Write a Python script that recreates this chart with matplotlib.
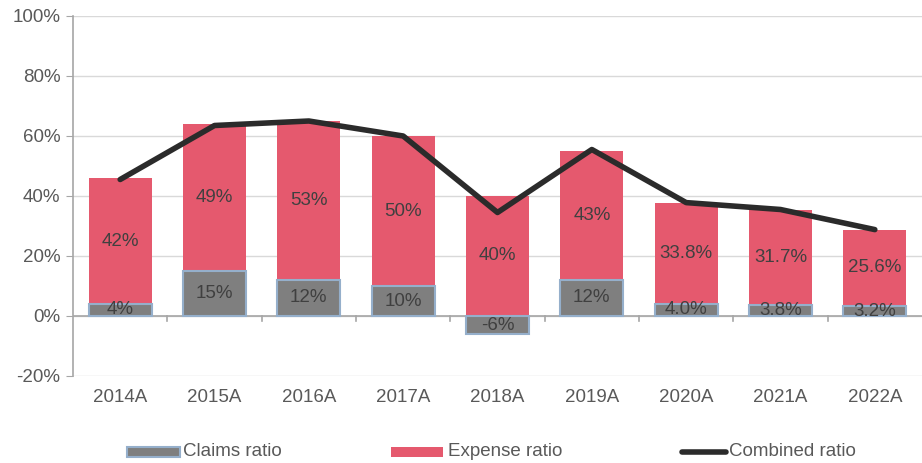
import matplotlib
matplotlib.use("Agg")
import matplotlib.pyplot as plt
from matplotlib.lines import Line2D
from matplotlib.patches import Rectangle

plt.rcParams["font.family"] = ["Liberation Sans", "DejaVu Sans"]

years = ["2014A", "2015A", "2016A", "2017A", "2018A", "2019A", "2020A", "2021A", "2022A"]
claims = [4, 15, 12, 10, -6, 12, 4.0, 3.8, 3.2]
expense = [42, 49, 53, 50, 40, 43, 33.8, 31.7, 25.6]
combined = [45.5, 63.5, 65, 60, 34.5, 55.5, 37.8, 35.5, 28.8]
claims_lbl = ["4%", "15%", "12%", "10%", "-6%", "12%", "4.0%", "3.8%", "3.2%"]
expense_lbl = ["42%", "49%", "53%", "50%", "40%", "43%", "33.8%", "31.7%", "25.6%"]

RED = "#E5596E"
GREY = "#7F7F7F"
EDGE = "#95AFCB"
LINE = "#2B2B2B"
TXT = "#404040"
AXT = "#595959"
FS = 13.5

W, H = 922, 463
fig = plt.figure(figsize=(W / 100, H / 100), dpi=100)
ax = fig.add_axes([73 / W, 1 - 376 / H, 849 / W, 360 / H])

x = range(len(years))
w = 0.67
bottoms = [max(c, 0) for c in claims]
ax.bar(x, expense, bottom=bottoms, width=w, color=RED, zorder=2)
ax.bar(x, claims, width=w, color=GREY, edgecolor=EDGE, linewidth=1.5, zorder=3)
ax.plot(x, combined, color=LINE, linewidth=4, solid_capstyle="round", zorder=4)

for i in x:
    ax.text(i, claims[i] / 2, claims_lbl[i], ha="center", va="center",
            fontsize=FS, color=TXT, zorder=5)
    ax.text(i, bottoms[i] + expense[i] / 2, expense_lbl[i], ha="center", va="center",
            fontsize=FS, color=TXT, zorder=5)

ax.set_xlim(-0.5, len(years) - 0.5)
ax.set_ylim(-20, 100)
ax.set_yticks(range(-20, 101, 20))
ax.set_yticklabels([f"{v}%" for v in range(-20, 101, 20)], fontsize=FS, color=AXT)
ax.grid(axis="y", color="#D9D9D9", linewidth=1, zorder=0)
ax.set_axisbelow(True)

for s in ["top", "right", "bottom"]:
    ax.spines[s].set_visible(False)
ax.spines["left"].set_color("#A6A6A6")
ax.spines["left"].set_linewidth(1.2)
ax.tick_params(axis="y", length=5, color="#A6A6A6", pad=4)

# category axis at zero with tick marks between categories
ax.axhline(0, color="#A6A6A6", linewidth=1.2, zorder=1)
ax.set_xticks(list(x))
ax.set_xticklabels([])
ax.tick_params(axis="x", length=0)
for b in range(1, len(years)):
    ax.plot([b - 0.5, b - 0.5], [0, -1.7], color="#A6A6A6", linewidth=1.2, zorder=1, clip_on=False)
for i in x:
    ax.text(i, -27, years[i], ha="center", va="center", fontsize=FS, color=AXT)

# legend drawn by hand (pixel positions from the reference)
ly = 1 - 452 / H
fig.add_artist(Rectangle((127 / W, 1 - 457 / H), 53 / W, 10 / H, transform=fig.transFigure,
                         facecolor=GREY, edgecolor=EDGE, linewidth=1.5))
fig.text(183 / W, ly, "Claims ratio", ha="left", va="center", fontsize=FS, color=AXT)
fig.add_artist(Rectangle((391 / W, 1 - 457 / H), 52 / W, 10 / H, transform=fig.transFigure,
                         facecolor=RED, edgecolor="none"))
fig.text(448 / W, ly, "Expense ratio", ha="left", va="center", fontsize=FS, color=AXT)
fig.add_artist(Line2D([682 / W, 726 / W], [ly, ly], transform=fig.transFigure,
                      color=LINE, linewidth=4, solid_capstyle="round"))
fig.text(729 / W, ly, "Combined ratio", ha="left", va="center", fontsize=FS, color=AXT)

fig.savefig("out.png", dpi=100, facecolor="white")
